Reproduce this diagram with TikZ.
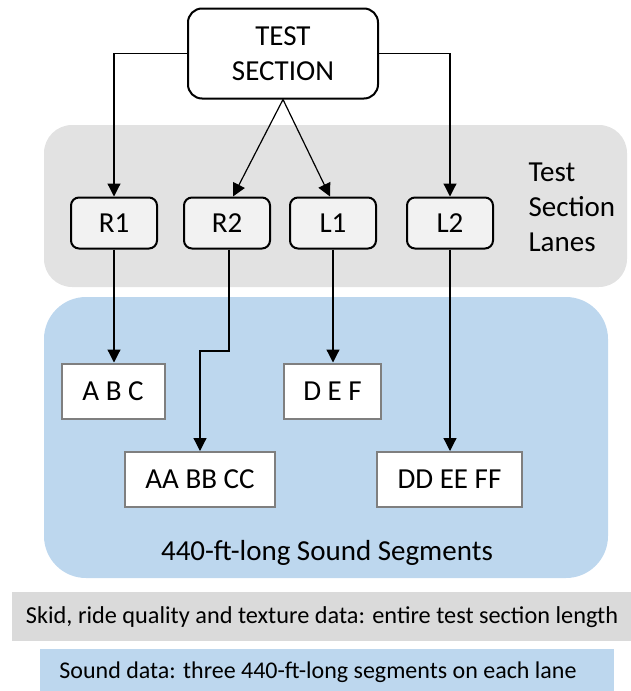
\documentclass[tikz,border=0pt]{standalone}
\usepackage{fontspec}
\setmainfont{Carlito}
\usepackage{tikz}
\usetikzlibrary{positioning,arrows.meta}

\definecolor{lanegray}{HTML}{E2E2E2}
\definecolor{lanefill}{HTML}{F2F2F2}
\definecolor{soundblue}{HTML}{BDD7EE}
\definecolor{barGray}{HTML}{DADADA}
\definecolor{segborder}{HTML}{7F7F7F}

\tikzset{
  lane/.style={draw, line width=2pt, rounded corners=8pt, fill=lanefill,
    minimum width=86pt, minimum height=51pt, inner sep=0pt},
  segbox/.style={draw=segborder, line width=2pt, fill=white,
    minimum height=55pt, inner sep=0pt},
  arr/.style={-{Triangle[width=13pt,length=13pt]}, line width=1.2pt}
}

\begin{document}
\begin{tikzpicture}[x=1pt, y=-1pt, font=\fontsize{29}{35}\selectfont]
    \useasboundingbox (0, 0) rectangle (631, 691);

    % Lanes background
    \fill[lanegray, rounded corners=28pt] (44, 125) rectangle (627, 287);

    % Sound segments background
    \fill[soundblue, rounded corners=42pt] (44, 297) rectangle (608, 578);

    % Test section
    \node[draw, line width=2pt, rounded corners=14pt, fill=white,
      minimum width=190pt, minimum height=90pt, align=center, inner sep=0pt]
      (ts) at (283, 53.5) {TEST\\SECTION};

    % Lanes
    \node[lane] (r1) at (114, 223) {R1};
    \node[lane] (r2) at (227, 223) {R2};
    \node[lane] (l1) at (333, 223) {L1};
    \node[lane] (l2) at (450, 223) {L2};
    \node[anchor=west, align=left] (lanes) at (525, 207) {Test\\Section\\Lanes};

    % Segments
    \node[segbox, minimum width=103pt] (abc) at (113, 391) {A B C};
    \node[segbox, minimum width=97pt] (def) at (332.5, 391) {D E F};
    \node[segbox, minimum width=150pt] (aabbcc) at (200, 479.5) {AA BB CC};
    \node[segbox, minimum width=145pt] (ddeeff) at (449.5, 479.5) {DD EE FF};
    \node (sound) at (327, 553) {440-ft-long Sound Segments};

    % Arrows to the lanes
    \draw[arr] (ts.west) -| (r1.north);
    \draw[arr] (ts.east) -| (l2.north);
    \draw[arr] (ts.south) -- ([xshift=6pt]r2.north);
    \draw[arr] (ts.south) -- ([xshift=-3pt]l1.north);

    % Arrows to the segments
    \coordinate (bend) at (229, 351);
    \draw[arr] (r1.south) -- (r1.south |- abc.north);
    \draw[arr] (r2.south -| bend) -- (bend) -| (aabbcc.north);
    \draw[arr] (l1.south) -- (l1.south |- def.north);
    \draw[arr] (l2.south) -- (l2.south |- ddeeff.north);

    % Legend bars
    \fill[barGray] (12, 592) rectangle (631, 641);
    \node[font=\fontsize{24.3}{28}\selectfont] (skid) at (322, 617)
      {Skid, ride quality and texture data: entire test section length};
    \fill[soundblue] (40, 649) rectangle (614, 691);
    \node[font=\fontsize{24}{28}\selectfont] (sounddata) at (318, 672)
      {Sound data: three 440-ft-long segments on each lane};
  \end{tikzpicture}
\end{document}
